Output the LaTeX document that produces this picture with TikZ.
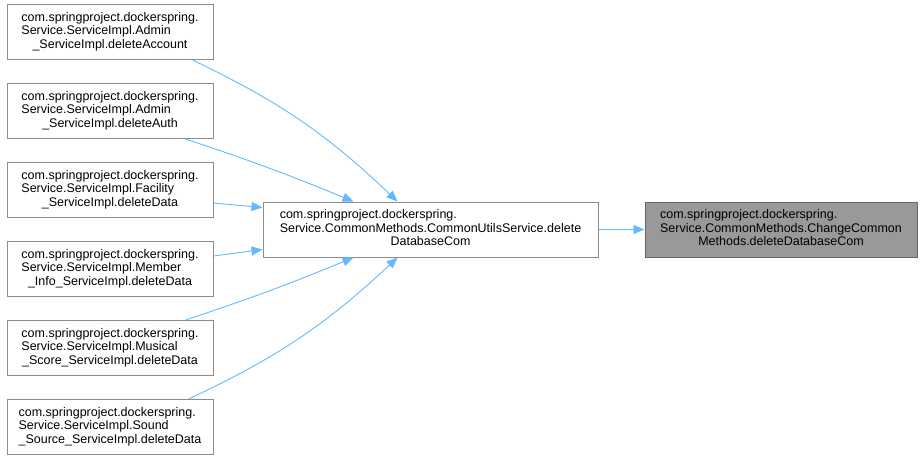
\documentclass[tikz,border=0pt]{standalone}
\usepackage{fontspec}
\setmainfont{Liberation Sans}
\usepackage{tikz}
\usetikzlibrary{arrows.meta, positioning, calc}
\definecolor{dxedge}{HTML}{63B8FF}
\definecolor{dxframe}{HTML}{8C8C8C}
\definecolor{dxdark}{HTML}{666666}
\definecolor{dxfill}{HTML}{999999}
\newcommand{\fnlabel}[3]{\begin{tabular}{@{}l@{}}#1\\#2\\\multicolumn{1}{@{}c@{}}{#3}\end{tabular}}

\begin{document}
\begin{tikzpicture}[
  fnbox/.style={rectangle, draw=dxframe, fill=white, line width=1bp,
    minimum height=55bp, minimum width=206bp, inner xsep=8bp, inner ysep=0pt,
    font=\fontsize{12.5bp}{13.6bp}\selectfont},
  callarrow/.style={draw=dxedge, line width=0.9bp,
    -{Triangle[length=11bp, width=9bp]}},
  node distance=23bp,
]
  \useasboundingbox (0,0) rectangle (920bp,-459bp);

  % callers
  \node[fnbox] (acct) at (110bp,-32bp)
    {\fnlabel{com.springproject.dockerspring.}{Service.ServiceImpl.Admin}{\_ServiceImpl.deleteAccount}};
  \node[fnbox, below=of acct] (auth)
    {\fnlabel{com.springproject.dockerspring.}{Service.ServiceImpl.Admin}{\_ServiceImpl.deleteAuth}};
  \node[fnbox, below=of auth] (fac)
    {\fnlabel{com.springproject.dockerspring.}{Service.ServiceImpl.Facility}{\_ServiceImpl.deleteData}};
  \node[fnbox, below=of fac] (mem)
    {\fnlabel{com.springproject.dockerspring.}{Service.ServiceImpl.Member}{\_Info\_ServiceImpl.deleteData}};
  \node[fnbox, below=of mem] (mus)
    {\fnlabel{com.springproject.dockerspring.}{Service.ServiceImpl.Musical}{\_Score\_ServiceImpl.deleteData}};
  \node[fnbox, below=of mus] (snd)
    {\fnlabel{com.springproject.dockerspring.}{Service.ServiceImpl.Sound}{\_Source\_ServiceImpl.deleteData}};

  % common utils + target
  \node[fnbox, minimum width=335bp, anchor=west] (utils)
    at ($(fac.east)!0.5!(mem.east)+(49bp,0)$)
    {\fnlabel{com.springproject.dockerspring.}{Service.CommonMethods.CommonUtilsService.delete}{DatabaseCom}};
  \node[fnbox, minimum width=272bp, draw=dxdark, fill=dxfill, right=46bp of utils] (chg)
    {\fnlabel{com.springproject.dockerspring.}{Service.CommonMethods.ChangeCommon}{Methods.deleteDatabaseCom}};

  % calls
  \draw[callarrow] ([xshift=-21bp]acct.south east) to[bend left=9] ([xshift=-33bp]utils.north);
  \draw[callarrow] ([xshift=-28bp]auth.south east) to[bend left=2] ([xshift=-77bp]utils.north);
  \draw[callarrow] ([yshift=-13bp]fac.east) -- ([yshift=22bp]utils.west);
  \draw[callarrow] ([yshift=13bp]mem.east) -- ([yshift=-20bp]utils.west);
  \draw[callarrow] ([xshift=-28bp]mus.north east) to[bend right=2] ([xshift=-77bp]utils.south);
  \draw[callarrow] ([xshift=-25bp]snd.north east) to[bend right=9] ([xshift=-33bp]utils.south);
  \draw[callarrow] (utils) -- (chg);
\end{tikzpicture}
\end{document}
